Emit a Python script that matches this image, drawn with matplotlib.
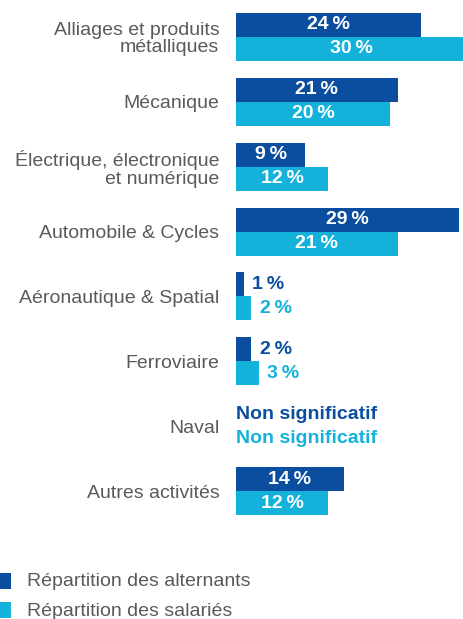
import matplotlib.pyplot as plt
from matplotlib.patches import Rectangle

plt.rcParams['font.family'] = ['Liberation Sans', 'DejaVu Sans']

categories = ['Alliages et produits\nmétalliques', 'Mécanique',
              'Électrique, électronique\net numérique', 'Automobile & Cycles',
              'Aéronautique & Spatial', 'Ferroviaire', 'Naval', 'Autres activités']
alternants = [24, 21, 9, 29, 1, 2, None, 14]
salaries = [30, 20, 12, 21, 2, 3, None, 12]
legend_labels = ['Répartition des alternants', 'Répartition des salariés']

dark = '#0B4EA0'
light = '#14B2DA'
grey = '#5A5A5A'

W, H = 463, 619
fig = plt.figure(figsize=(W / 100, H / 100), dpi=100)
ax = fig.add_axes([236 / W, 1 - 523 / H, (W - 236) / W, 518 / H])

bh = 0.37
for i, (a, s) in enumerate(zip(alternants, salaries)):
    ax.annotate(categories[i], (0, i), xytext=(-12, -1.5), textcoords='offset points',
                ha='right', va='center', multialignment='right',
                fontsize=14, color=grey, linespacing=1.05, annotation_clip=False)
    if a is None:
        ax.text(-0.05, i - bh / 2, 'Non significatif', color=dark, fontsize=14,
                fontweight='bold', va='center', ha='left')
        ax.text(-0.05, i + bh / 2, 'Non significatif', color=light, fontsize=14,
                fontweight='bold', va='center', ha='left')
        continue
    for v, y, c in [(a, i - bh / 2, dark), (s, i + bh / 2, light)]:
        ax.barh(y, v, height=bh, color=c, linewidth=0)
        lab = f'{v}\u2009%'
        if v >= 5:
            ax.text(v / 2, y, lab, color='white', fontsize=14, fontweight='bold',
                    ha='center', va='center')
        else:
            ax.annotate(lab, (v, y), xytext=(6, 0), textcoords='offset points',
                        color=c, fontsize=14, fontweight='bold',
                        ha='left', va='center')

ax.set_xlim(0, 227 / 7.7)
ax.set_ylim(7 + 32 / 65, -32 / 65)
ax.set_xticks([])
ax.set_yticks([])
for sp in ax.spines.values():
    sp.set_visible(False)
ax.patch.set_alpha(0)

for k, (lab, c) in enumerate(zip(legend_labels, [dark, light])):
    yc = 581 + 29 * k
    fig.patches.append(Rectangle((-5 / W, 1 - (yc + 8) / H), 16 / W, 16 / H,
                                 transform=fig.transFigure, color=c, lw=0))
    fig.text(27 / W, 1 - (yc + 1) / H, lab, fontsize=14, color=grey, va='center')

fig.savefig('out.png', dpi=100)
